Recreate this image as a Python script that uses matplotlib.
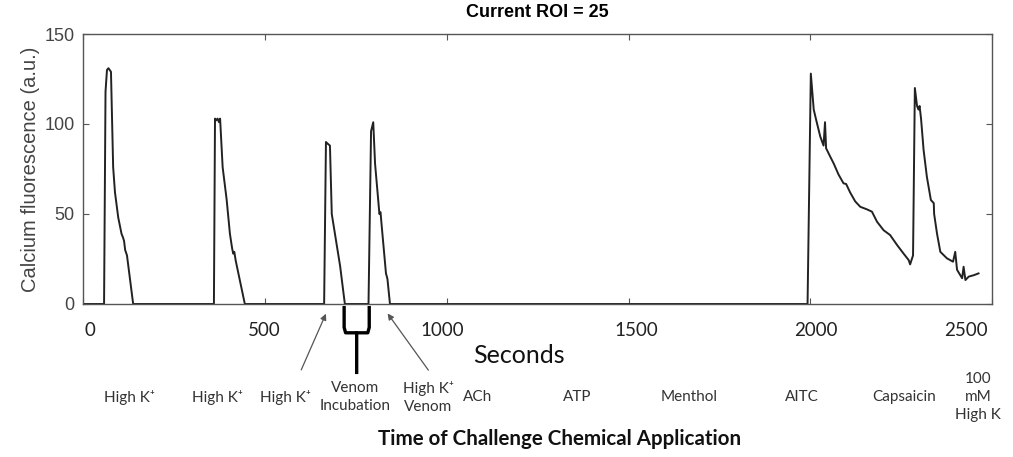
import matplotlib
matplotlib.use("Agg")
import matplotlib.pyplot as plt

# Calcium trace for ROI 25 (seconds, a.u.)
t = [0, 58, 62, 66, 70, 77, 83, 88, 97, 106, 110, 113, 116, 121, 138,
     360, 363, 366, 370, 374, 377, 384, 395, 404, 410, 413, 416, 420, 445,
     663, 668, 673, 679, 684, 707, 720,
     785, 792, 798, 803, 815, 818, 821, 833, 837, 844,
     1992, 2001, 2009, 2016, 2027, 2036, 2040, 2043, 2054, 2064, 2077, 2091,
     2098, 2109, 2123, 2137, 2155, 2169, 2183, 2201, 2219, 2238, 2256, 2270,
     2274, 2282, 2287, 2293, 2297, 2300, 2304, 2311, 2320, 2331, 2339, 2340,
     2348, 2357, 2375, 2392, 2398, 2403, 2417, 2421, 2426, 2435, 2449, 2462]
f = [0, 0, 118, 130, 131, 129, 76, 62, 48, 39, 37, 35, 30, 27, 0,
     0, 103, 102, 103, 101, 103, 76, 58, 39, 31, 28, 29, 24, 0,
     0, 90, 89, 88, 50, 21, 0,
     0, 96, 101, 78, 50, 51, 44, 17, 14, 0,
     0, 128, 108, 102, 93, 88, 101, 86.5, 82, 78, 72, 67,
     66.7, 62, 57, 54, 52.6, 51.3, 45.7, 41, 38.3, 32.8, 28, 24.4,
     22, 27, 120, 110, 108, 110, 103, 85.6, 70.7, 57.8, 56, 50,
     39, 29, 25.4, 23.5, 29, 19, 14.3, 20.7, 13.3, 15.2, 16, 17]

# Challenge chemicals along the time axis
chem_names = ["High K\u207a", "High K\u207a", "High K\u207a", "Venom\nIncubation",
              "High K\u207a\nVenom", "ACh", "ATP", "Menthol", "AITC", "Capsaicin",
              "100\nmM\nHigh K"]
chem_times = [129, 371, 558, 748, 949, 1084, 1359, 1667, 1977, 2258, 2461]

# Venom incubation window between the 3rd and 4th K+ pulses
incubation = [718, 787]
xticks = [0, 500, 1000, 1500, 2000, 2500]
xtick_labels = ["0", "500", "1000", "1500", "2000", "2500"]
xlabel_pos = [19, 498, 987, 1521, 2016, 2428]
yticks = [0, 50, 100, 150]

fig = plt.figure(figsize=(10.13, 4.57), dpi=100)
ax = fig.add_axes([0.0819, 0.3348, 0.8977, 0.5908])

ax.plot(t, f, color="#222222", lw=1.4)
ax.set_xlim(0, 2500)
ax.set_ylim(0, 150)

for s in ax.spines.values():
    s.set_color("#555555")
    s.set_linewidth(1.0)
ax.tick_params(direction="in", top=True, right=True, length=4, color="#555555")
ax.tick_params(axis="y", pad=6, labelsize=13, labelcolor="#444444")
ax.set_xticks(xticks)
ax.set_xticklabels([])
ax.set_yticks(yticks)
for lab in ax.get_yticklabels():
    lab.set_family("Liberation Sans")

trans = ax.get_xaxis_transform()

# x tick labels sit a little off their ticks
for x, lab in zip(xlabel_pos, xtick_labels):
    ax.text(x, -0.097, lab, transform=trans, ha="center", va="center",
            family=["Lato", "DejaVu Sans"], fontsize=13.5, color="#222222",
            clip_on=False)

ax.set_ylabel("Calcium fluorescence (a.u.)", family="Liberation Sans",
              fontsize=14.5, color="#444444", labelpad=3)
ax.set_title("Current ROI = 25", family="Liberation Sans", fontweight="bold",
             fontsize=13, pad=12)

fig.text(0.512, 0.223, "Seconds", family=["Lato", "DejaVu Sans"], fontsize=18,
         ha="center", va="center", color="#111111")

for name, x in zip(chem_names, chem_times):
    ax.text(x, -0.345, name, transform=trans, ha="center", va="center",
            family=["Lato", "DejaVu Sans"], fontsize=11, color="#333333",
            linespacing=1.35, clip_on=False)

fig.text(0.552, 0.04, "Time of Challenge Chemical Application",
         family=["Lato", "DejaVu Sans"], fontweight="bold", fontsize=14.8,
         ha="center", va="center", color="#111111")

# arrows pointing at the K+ pulses around the venom incubation
arrow_kw = dict(arrowstyle="-|>", color="#555555", lw=0.9, mutation_scale=9)
ax.annotate("", xy=(671, -4), xytext=(597, -38), xycoords="data",
            arrowprops=arrow_kw, annotation_clip=False)
ax.annotate("", xy=(833, -4), xytext=(954, -38), xycoords="data",
            arrowprops=arrow_kw, annotation_clip=False)

# bracket marking the incubation period
a, b = incubation
mid = (a + b) / 2
ax.plot([a, a, a + 4, mid, mid], [-2, -13, -16, -16, -38],
        color="black", lw=2.4, clip_on=False, solid_joinstyle="round")
ax.plot([b, b, b - 4, mid], [-2, -13, -16, -16],
        color="black", lw=2.4, clip_on=False, solid_joinstyle="round")

fig.savefig("out.png", dpi=100, facecolor="white")
